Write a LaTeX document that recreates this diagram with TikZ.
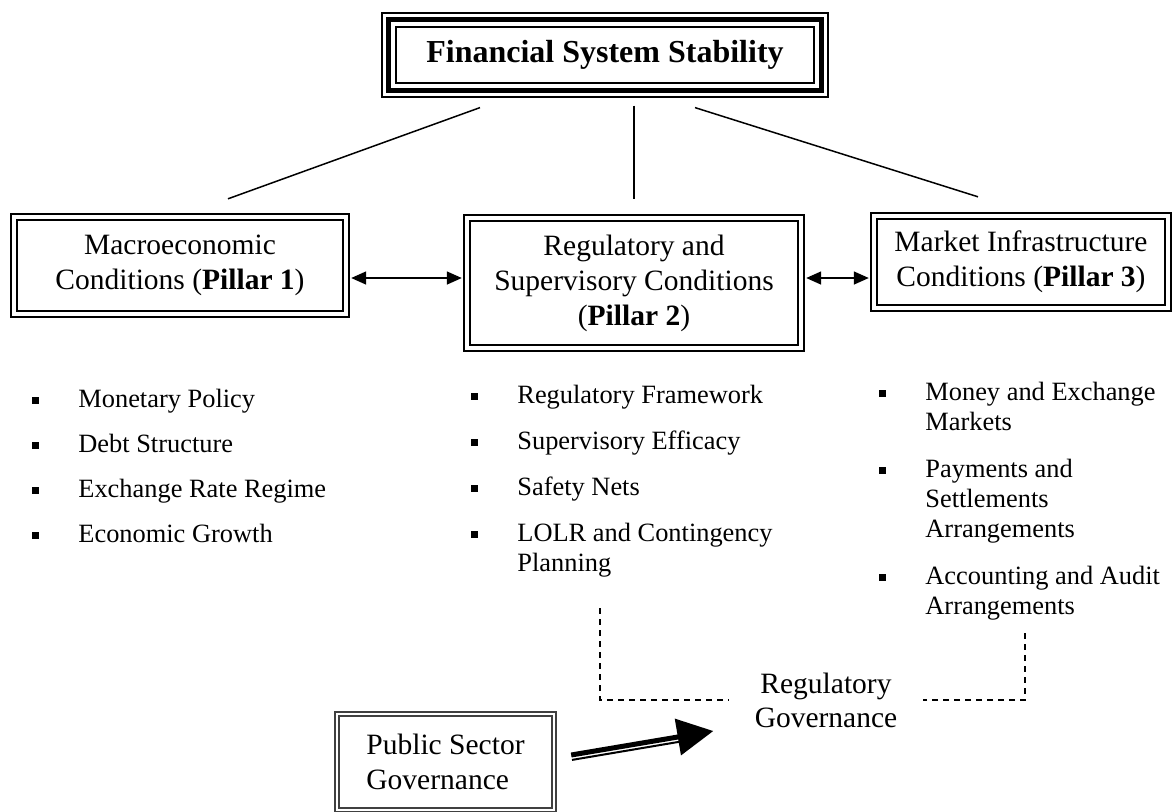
\documentclass[tikz,border=0pt]{standalone}
\usepackage{fontspec}
\setmainfont{Liberation Serif}
\usetikzlibrary{arrows.meta,calc}

\tikzset{
  pillar/.style={draw,double,line width=1.2pt,double distance=1.6pt,
    align=center,font=\fontsize{14.75}{17.5}\selectfont},
  entry/.style={anchor=base west,inner sep=0pt,
    font=\fontsize{13.2}{15}\selectfont},
  twoway/.style={{Triangle[length=7.5pt,width=6.5pt]}-{Triangle[length=7.5pt,width=6.5pt]},
    line width=0.75pt},
  govline/.style={line width=0.8pt,dash pattern=on 3pt off 2.5pt},
}
\newcommand{\bul}{\llap{\raisebox{1.6pt}{\rule{3.5pt}{3.5pt}}\hspace{19.5pt}}}
\newcommand{\lines}[1]{\begin{tabular}[t]{@{}l@{}}#1\end{tabular}}

\begin{document}
\begin{tikzpicture}[x=0.5pt,y=-0.5pt]
\clip (0,0) rectangle (1175,811);
% the three pillars under the common goal
\node [draw,line width=0.6pt,minimum width=223pt,minimum height=42pt,
    font=\fontsize{16}{18}\selectfont\bfseries] (fss) at (605,55) {Financial System Stability};
\draw [line width=2.5pt] ([shift={(3.75pt,-3.75pt)}]fss.north west) rectangle ([shift={(-3.75pt,3.75pt)}]fss.south east);
\draw [line width=1pt] ([shift={(7.5pt,-7.5pt)}]fss.north west) rectangle ([shift={(-7.5pt,7.5pt)}]fss.south east);
\node [pillar,minimum width=166pt,minimum height=48.5pt] (macro) at (180,265.5)
    {Macroeconomic\\Conditions (\textbf{Pillar 1})};
\node [pillar,minimum width=167pt,minimum height=65pt] (reg) at (634,283)
    {Regulatory and\\Supervisory Conditions\\(\textbf{Pillar 2})};
\node [pillar,minimum width=147pt,minimum height=46pt] (mkt) at (1021,262)
    {Market Infrastructure\\Conditions (\textbf{Pillar 3})};
\draw [line width=0.75pt] ($(fss.south)+(-125,10)$) -- ($(macro.north)+(48,-17)$);
\draw [line width=0.75pt] ($(fss.south)+(29,8)$) -- ($(reg.north)+(0,-18)$);
\draw [line width=0.75pt] ($(fss.south)+(90,10)$) -- ($(mkt.north)+(-43,-18)$);
\draw [twoway,shorten <=2pt,shorten >=2pt] ([yshift=-6.25pt]macro.east) -- ([yshift=-6.25pt]macro.east -| reg.west);
\draw [twoway,shorten <=2pt,shorten >=2pt] ([yshift=-8pt]mkt.west -| reg.east) -- ([yshift=-8pt]mkt.west);

% components of each pillar
\node [entry] (mp) at (78,407) {\bul Monetary Policy};
\node [entry] (ds) at (78,452) {\bul Debt Structure};
\node [entry] (er) at (78,497) {\bul Exchange Rate Regime};
\node [entry] (eg) at (78,542) {\bul Economic Growth};
\node [entry] (rf) at (517,403) {\bul Regulatory Framework};
\node [entry] (se) at (517,449) {\bul Supervisory Efficacy};
\node [entry] (sn) at (517,495) {\bul Safety Nets};
\node [entry] (lolr) at (517,541) {\bul\lines{LOLR and Contingency\\Planning}};
\node [entry] (mem) at (925,400) {\bul\lines{Money and Exchange\\Markets}};
\node [entry] (psa) at (925,477) {\bul\lines{Payments and\\Settlements\\Arrangements}};
\node [entry] (aaa) at (925,584) {\bul\lines{Accounting and Audit\\Arrangements}};

% governance
\node [align=center,inner xsep=12.5pt,font=\fontsize{14.75}{17}\selectfont] (rgov) at (826,700)
    {Regulatory\\Governance};
\node [draw=black!75,double,line width=1.2pt,double distance=1pt,align=left,
    minimum width=108.5pt,minimum height=48pt,font=\fontsize{14.75}{17.5}\selectfont] (psg) at (445.5,762)
    {Public Sector\\Governance};
\coordinate (gl) at (600,608);
\coordinate (gr) at (1025,633);
\draw [govline] (gl) |- (rgov.west);
\draw [govline] (gr) |- (rgov.east);
\coordinate (pa) at ($(psg.east)+(16,-7)$);
\coordinate (pb) at ($(rgov.west)+(-16,31)$);
\draw [line width=2.5pt,-{Triangle[length=18pt,width=18pt]}] (pa) -- (pb);
\draw [line width=1pt,shorten >=17pt] ($(pa)+(0.8,4.9)$) -- ($(pb)+(0.8,4.9)$);
\end{tikzpicture}
\end{document}
